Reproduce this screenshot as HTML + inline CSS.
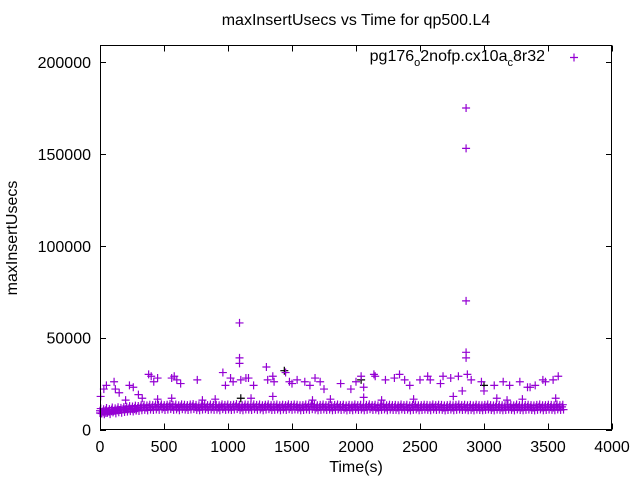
<!DOCTYPE html>
<html><head><meta charset="utf-8"><style>
html,body{margin:0;padding:0;background:#fff}
svg{display:block;font-family:"Liberation Sans",sans-serif}
</style></head><body>
<svg id="chart" width="640" height="480" viewBox="0 0 640 480" xmlns="http://www.w3.org/2000/svg">
<text x="356" y="25" font-size="16" text-anchor="middle">maxInsertUsecs vs Time for qp500.L4</text>
<text x="17" y="238" font-size="16" text-anchor="middle" transform="rotate(-90 17 238)">maxInsertUsecs</text>
<text x="356" y="472" font-size="16" text-anchor="middle">Time(s)</text>
<g id="axes"></g>
<g id="marks"></g>
<rect x="100.5" y="45.5" width="511" height="384" fill="none" stroke="#000" stroke-width="1"/>
<g>
<text x="545" y="61" font-size="16" text-anchor="end">pg176<tspan font-size="11" dy="5">o</tspan><tspan dy="-5">2nofp.cx10a</tspan><tspan font-size="11" dy="5">c</tspan><tspan dy="-5">8r32</tspan></text>
<path d="M570 57.5h8M574 53.5v8" stroke="#9400d3" stroke-width="1.2"/>
</g>
</svg>
<script>
const xTicks=[0,500,1000,1500,2000,2500,3000,3500,4000];
const yTicks=[0,50000,100000,150000,200000];
const bandValues=[10200,9800,10500,9900,10800,10300,10900,10600,11000,11200,11500,11300,11800,11600,12000,12200,11900,12300,12100,12400,
12200,12500,12100,12300,12600,12200,12400,12000,12500,12300,12100,12400,12600,12200,12000,12300,12500,12100,12400,12200,
12300,12000,12500,12200,12400,12100,12300,12600,12200,12000,12400,12300,12100,12500,12200,12400,12000,12300,12500,12100,
12200,12400,12000,12300,12100,12500,12200,12400,12300,12000,12100,12400,12200,12500,12300,12000,12200,12400,12100,12300,
12000,12200,12400,12100,12300,11900,12200,12000,12400,12100,12300,12000,12200,12500,12100,12300,11900,12200,12400,12000,
12300,12100,12200,12000,12400,12100,12300,11900,12200,12400,12000,12100,12300,12200,12000,12400,12100,12300,12200,11900,
12100,12300,12000,12200,12400,12100,12300,12000,12200,11900,12300,12100,12000,12200,12400,12100,11900,12300,12200,12000,
12100,12300,12200,11900,12400,12100,12000,12200,12300,12100,11900,12200,12400,12000,12100,12300,12200,12000,12400,12100,12300];
const bandEndTime=3610;
const bandLowValues=[9000,8800,9300,9100,9500,9700,9900,10000,10200,10400,10600,10800,11000,10900,11100,11000,11200,11000,11100,10900];
const outlierTimes=[5,30,50,110,120,150,230,260,300,380,400,420,450,560,580,600,630,760,960,980,1020,1040,1090,1090,1090,1100,1140,1160,1200,1300,1310,1350,1360,1450,1480,1500,1540,1600,1640,1680,1720,1750,1880,1960,2000,2040,2060,2140,2150,2230,2300,2340,2380,2420,2500,2560,2580,2660,2680,2740,2800,2830,2860,2860,2860,2860,2860,2870,2900,2980,3000,3080,3150,3200,3280,3340,3360,3400,3460,3480,3540,3580,
200,330,450,560,800,900,1180,1350,1660,1800,2060,2200,2450,2760,3100,3180,3300,3560];
const outlierValues=[18000,22000,24000,26000,22000,20000,24000,23000,19000,30000,29000,26000,28000,28000,29000,27000,25000,27000,31000,24000,28000,26000,58000,39000,36000,27000,28000,28000,24000,34000,27000,29000,26000,31000,26000,25000,27000,26000,24000,28000,26000,22000,25000,22000,26000,29000,23000,30000,29000,27000,28000,30000,27000,24000,27000,29000,27000,25000,29000,28000,29000,21000,175000,153000,70000,42000,39000,30000,27000,26000,21000,24000,26000,24000,26000,23000,23000,24000,27000,26000,27000,29000,
16000,17000,16500,17000,16000,16500,17000,18000,16000,16500,17500,16000,16500,18000,17000,16000,16500,17000];
const blackTimes=[1440,1100,2040,3000];
const blackValues=[32000,17000,27000,24000];

const X0=100,X1=612,Y0=429.5,Y1=45.5;
const xs=v=>X0+(v/4000)*(X1-X0);
const ys=v=>Y0-(v/209000)*(Y0-Y1);
const NS="http://www.w3.org/2000/svg";
const axes=document.getElementById('axes'), marks=document.getElementById('marks');
xTicks.forEach(t=>{
  const x=Math.round(xs(t))+0.5;
  const p=document.createElementNS(NS,'path');
  p.setAttribute('d',`M${x} ${Y0}v-6M${x} ${Y1}v6`);p.setAttribute('stroke','#000');
  
  
  axes.appendChild(p);
  const l=document.createElementNS(NS,'text');
  l.setAttribute('x',xs(t));l.setAttribute('y',452);l.setAttribute('font-size','16');l.setAttribute('text-anchor','middle');
  l.textContent=t;
  
  
  axes.appendChild(l);
});
yTicks.forEach(t=>{
  const y=Math.round(ys(t))+0.5;
  const p=document.createElementNS(NS,'path');
  p.setAttribute('d',`M${X0} ${y}h6M${X1} ${y}h-6`);p.setAttribute('stroke','#000');
  
  
  axes.appendChild(p);
  const l=document.createElementNS(NS,'text');
  l.setAttribute('x',91);l.setAttribute('y',ys(t)+6);l.setAttribute('font-size','16');l.setAttribute('text-anchor','end');
  l.textContent=t;
  
  
  axes.appendChild(l);
});
function plus(t,v,color,name){
  const x=xs(t),y=ys(v);
  const p=document.createElementNS(NS,'path');
  p.setAttribute('d',`M${x-4} ${y}h8M${x} ${y-4}v8`);
  p.setAttribute('stroke',color);p.setAttribute('fill','none');p.setAttribute('stroke-width','1.2');
  
  
  marks.appendChild(p);
}
const step=bandEndTime/(bandValues.length-1);
blackTimes.forEach((t,i)=>plus(t,blackValues[i],'#000','black-point'));
bandValues.forEach((v,i)=>{const t=i*step;plus(t,v,'#9400d3','band-point');plus(t+step/2,v-1500,'#9400d3','band-point');plus(t+step/4,v+1200,'#9400d3','band-point');});
bandLowValues.forEach((v,i)=>plus(i*15,v,'#9400d3','band-low-point'));
outlierTimes.forEach((t,i)=>plus(t,outlierValues[i],'#9400d3','outlier-point'));
</script>
</body></html>
